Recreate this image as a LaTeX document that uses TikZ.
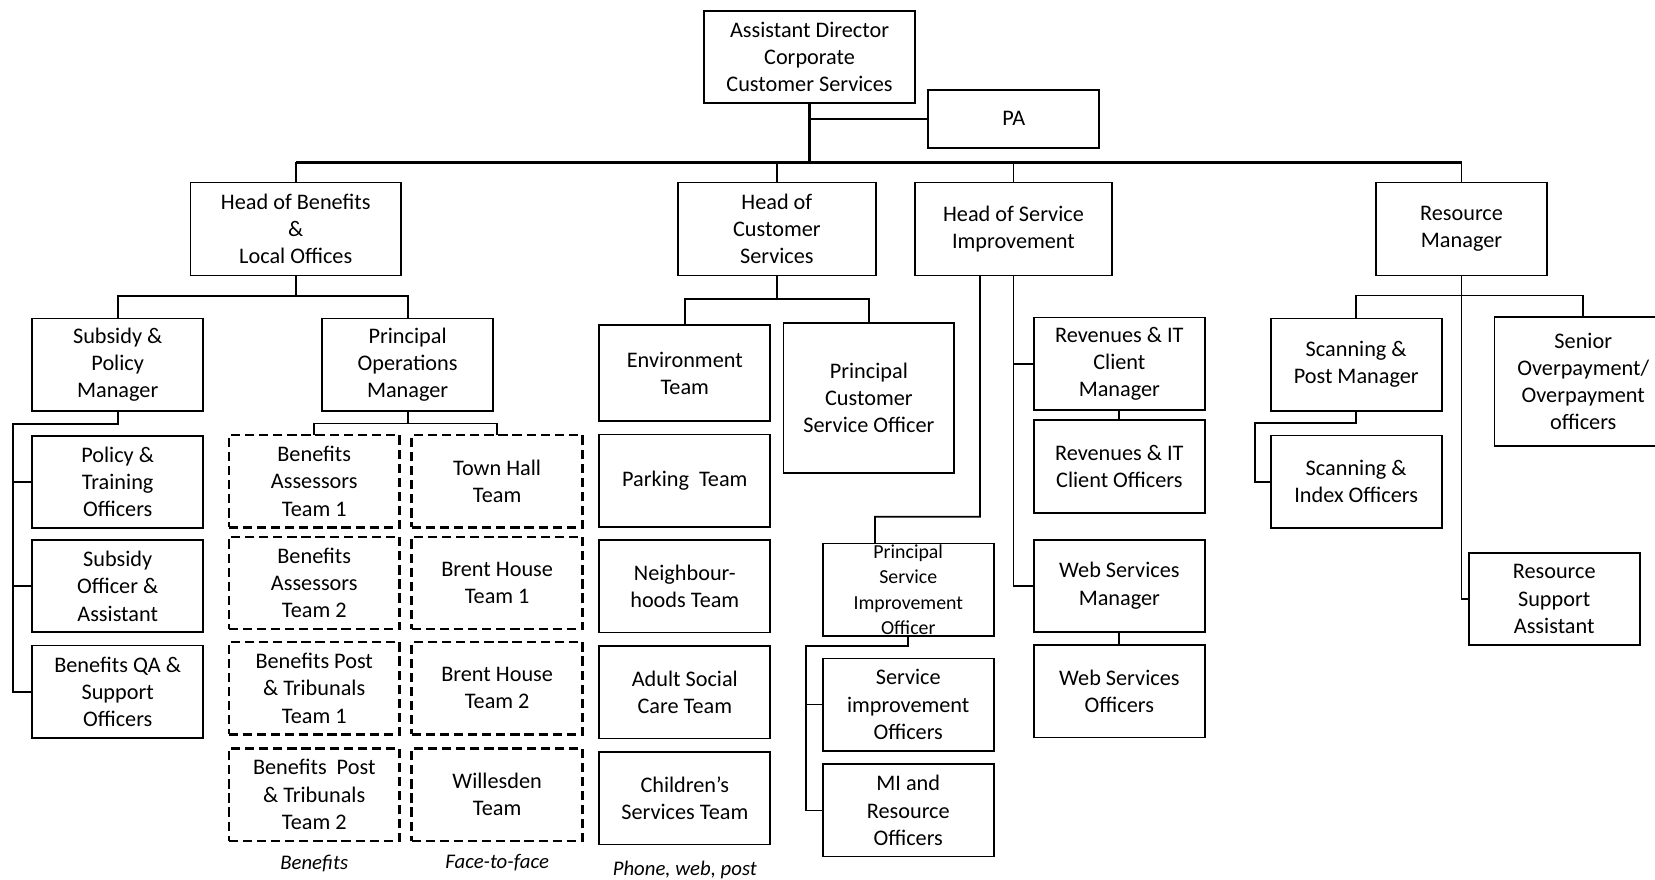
\documentclass[tikz,border=0pt]{standalone}
\usepackage{fontspec}
\setmainfont{Carlito}

\begin{document}
\begin{tikzpicture}[x=0.02cm, y=-0.02cm]
 \tikzstyle{poste}=[draw, line width=0.95pt, text=black, align=center, inner sep=0pt, outer sep=0pt, minimum width=3.24cm, minimum height=1.75cm, font=\fontsize{12}{14.7}\selectfont]
 \tikzstyle{tirets}=[poste, line width=1.3pt, dash pattern=on 5pt off 2.6pt]
 \tikzstyle{lien}=[line width=0.95pt]
 \tikzstyle{tronc}=[line width=1.4pt]
 \tikzstyle{legende}=[font=\fontsize{11.2}{13}\selectfont\itshape]
 \useasboundingbox (0,0) rectangle (1568,833);
 %
 \node[poste, minimum width=4cm] (AD) at (767, 54) {Assistant Director\\Corporate\\Customer Services};
 \node[poste, minimum height=1.1cm] (PA) at (960.5, 112.5) {PA};
 %
 \node[poste, minimum width=3.99cm, minimum height=1.76cm] (HB) at (280.2, 217) {Head of Benefits\\\&\\Local Offices};
 \node[poste, minimum width=3.76cm, minimum height=1.76cm] (HCS) at (736, 217) {Head of\\Customer\\Services};
 \node[poste, minimum width=3.74cm, minimum height=1.76cm] (HSI) at (960.2, 217) {Head of Service\\Improvement};
 \node[poste, minimum height=1.76cm] (RM) at (1384.7, 217) {Resource\\Manager};
 %
 \node[poste] (SPM) at (111.5, 345.5) {Subsidy \&\\Policy\\Manager};
 \node[poste] (POM) at (386.2, 345.5) {Principal\\Operations\\Manager};
 \node[poste] (PTO) at (111.5, 456.5) {Policy \&\\Training\\Officers};
 \node[poste] (SOA) at (111.5, 555.3) {Subsidy\\Officer \&\\Assistant};
 \node[poste] (BQA) at (111.5, 655.3) {Benefits QA \&\\Support\\Officers};
 %
 \node[tirets] (BA1) at (297.7, 456) {Benefits\\Assessors\\Team 1};
 \node[tirets] (BA2) at (297.7, 552.3) {Benefits\\Assessors\\Team 2};
 \node[tirets] (BP1) at (297.7, 652) {Benefits Post\\\& Tribunals\\Team 1};
 \node[tirets] (BP2) at (297.7, 752.8) {Benefits\ \ Post\\\& Tribunals\\Team 2};
 \node[tirets] (TH) at (471, 456) {Town Hall\\Team};
 \node[tirets] (BH1) at (471, 552.3) {Brent House\\Team 1};
 \node[tirets] (BH2) at (471, 652) {Brent House\\Team 2};
 \node[tirets] (WT) at (471, 752.8) {Willesden\\Team};
 %
 \node[poste, minimum height=1.82cm] (ENV) at (648.8, 353.5) {Environment\\Team};
 \node[poste, minimum height=2.84cm] (PCSO) at (823.2, 377) {Principal\\Customer\\Service Officer};
 \node[poste] (PK) at (648.8, 455.5) {Parking\ \ Team};
 \node[poste] (NH) at (648.8, 555.5) {Neighbour-\\hoods Team};
 \node[poste] (ASC) at (648.8, 656) {Adult Social\\Care Team};
 \node[poste] (CS) at (648.8, 756.3) {Children’s\\Services Team};
 %
 \node[poste, font=\fontsize{10.7}{13.8}\selectfont] (PSIO) at (860.5, 558.6) {Principal\\Service\\Improvement\\Officer};
 \node[poste] (SIO) at (860.5, 667.5) {Service\\improvement\\Officers};
 \node[poste] (MIR) at (860.5, 767.8) {MI and\\Resource\\Officers};
 \node[poste] (RCM) at (1060.5, 344.5) {Revenues \& IT\\Client\\Manager};
 \node[poste] (RCO) at (1060.5, 442) {Revenues \& IT\\Client Officers};
 \node[poste] (WSM) at (1060.5, 555) {Web Services\\Manager};
 \node[poste] (WSO) at (1060.5, 655) {Web Services\\Officers};
 %
 \node[poste] (SCM) at (1284.9, 345.4) {Scanning \&\\Post Manager};
 \node[poste] (SIX) at (1284.9, 456.4) {Scanning \&\\Index Officers};
 \node[poste, minimum width=3.36cm, minimum height=2.45cm] (SOP) at (1500, 361.3) {Senior\\Overpayment/\\Overpayment\\officers};
 \node[poste] (RSA) at (1472.5, 567.6) {Resource\\Support\\Assistant};
 %
 \node[legende] (LB) at (297.7, 817.7) {Benefits};
 \node[legende] (LF) at (471, 817.7) {Face-to-face};
 \node[legende] (LP) at (648.8, 824.5) {Phone, web, post};
 %%
 \draw[tronc] (AD.south) -- ++(0,56) coordinate (bus);
 \draw[tronc] (HB.north |- bus) -- (RM.north |- bus);
 \foreach \n in {HB, HCS, HSI, RM}
   \draw[lien] (\n.north) -- (\n.north |- bus);
 \draw[lien] (PA.west) -- (PA.west -| bus);
 %
 \draw[lien] (HB.south) -- ++(0,19.4) coordinate (hbj);
 \draw[lien] (SPM.north) |- (hbj) -| (POM.north);
 \draw[lien] (SPM.south) |- ++(-99.5,12.6) coordinate (spmj) |- (BQA.west);
 \foreach \n in {PTO, SOA}
   \draw[lien] (\n.west) -- (\n.west -| spmj);
 \draw[lien] (POM.south) -- ++(0,12) coordinate (pomj);
 \draw[lien] (BA1.north) |- (pomj) -| (TH.north);
 %
 \draw[lien] (HCS.south) -- ++(0,22.3) coordinate (hcsj);
 \draw[lien] (ENV.north) |- (hcsj) -| (PCSO.north);
 %
 \draw[lien] ([xshift=-0.634cm]HSI.south) |- ++(-99.5,228.5) -- ([xshift=-0.63cm]PSIO.north);
 \draw[lien] (HSI.south) |- (WSM.west);
 \draw[lien] (RCM.west) -- (RCM.west -| HSI.south);
 \draw[lien] (RCM.south) -- (RCO.north);
 \draw[lien] (WSM.south) -- (WSO.north);
 \draw[lien] (PSIO.south) |- ++(-97,10) coordinate (psioj) |- (MIR.west);
 \draw[lien] (SIO.west) -- (SIO.west -| psioj);
 %
 \draw[lien] (RM.south) -- ++(0,19) coordinate (rmj);
 \draw[lien] (SCM.north) |- (rmj) -| (SOP.north);
 \draw[lien] (rmj) |- (RSA.west);
 \draw[lien] (SCM.south) |- ++(-96,11.6) coordinate (scmj) |- (SIX.west);
\end{tikzpicture}
\end{document}
